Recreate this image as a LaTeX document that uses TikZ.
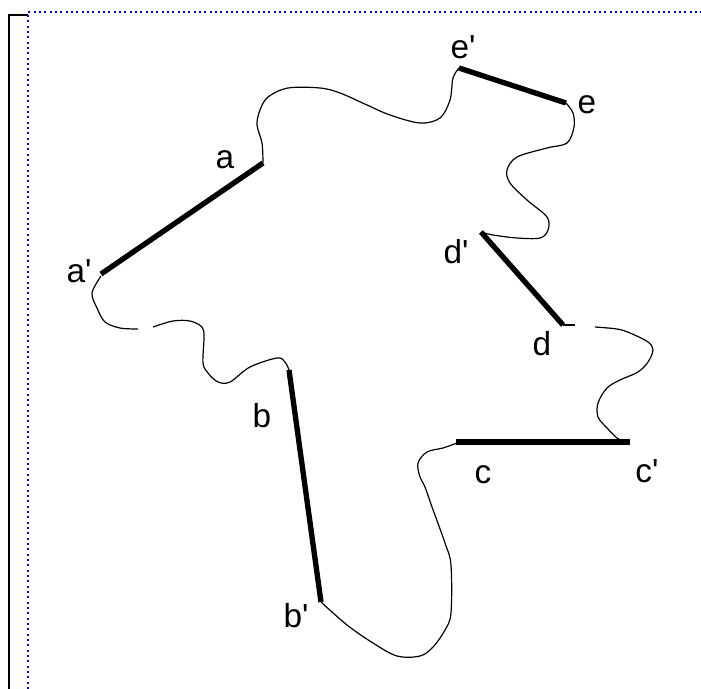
\documentclass[tikz,border=0pt]{standalone}
\usepackage{fontspec}
\setmainfont{Liberation Sans}
\begin{document}
\begin{tikzpicture}[x=0.75pt,y=-0.75pt,
  lbl/.style={anchor=base,inner sep=0pt,font=\fontsize{25}{30}\selectfont},
  seg/.style={line width=4pt,line cap=butt},
  edge/.style={line width=0.9pt,smooth,tension=0.55},
  frame/.style={line width=1.5pt,black},
  dots/.style={blue,line width=1.6pt,dash pattern=on 1.5pt off 2.5pt}]
\useasboundingbox (0,0) rectangle (701,689);
\fill[white] (0,0) rectangle (701,689);
% frame lines
\coordinate (f1) at (28,15);
\coordinate (f2) at (9,15);
\coordinate (f3) at (9,689);
\draw[frame] (f1) -- (f2) -- (f3);
\coordinate (g1) at (28,689);
\coordinate (g2) at (28,12);
\coordinate (g3) at (701,12);
\draw[dots] (g1) -- (g2) -- (g3);
% segment end points
\coordinate (pa) at (263,163);
\coordinate (pa2) at (101,274);
\coordinate (pe2) at (459,68);
\coordinate (pe) at (566,103);
\coordinate (pd2) at (481,232);
\coordinate (pd) at (563,325);
\coordinate (pc) at (456,442);
\coordinate (pc2) at (630,442);
\coordinate (pb) at (289,370);
\coordinate (pb2) at (321,602);
% thick segments
\draw[seg] (pa) -- (pa2);
\draw[seg] (pe2) -- (pe);
\draw[seg] (pd2) -- (pd);
\draw[seg] (pc) -- (pc2);
\draw[seg] (pb) -- (pb2);
% thin boundary
\draw[edge] plot coordinates {(263,163) (262,143) (257,125) (260,110) (268,97) (288,88) (320,88) (340,93) (367,105) (390,115) (420,123) (440,118) (450,100) (453,78) (459,68)};
\draw[edge] plot coordinates {(566,103) (573,113) (574,127) (567,143) (547,148) (517,157) (507,170) (510,183) (527,200) (547,217) (548,230) (540,238) (517,238) (493,235) (481,232)};
\draw[line width=0.9pt] (563,325) -- (575,325);
\draw[edge] plot coordinates {(595,327) (617,329) (630,333) (648,342) (653,350) (648,362) (638,372) (620,380) (607,388) (598,403) (598,417) (607,428) (617,438) (624,441)};
\draw[edge] plot coordinates {(457,443) (443,448) (427,452) (418,463) (420,477) (425,487) (432,507) (445,543) (451,565) (451,613) (445,630) (433,647) (420,656) (397,656) (373,643) (347,625) (321,602)};
\draw[edge] plot coordinates {(289,370) (285,362) (277,358) (250,367) (230,382) (218,382) (208,373) (203,363) (204,337) (202,327) (190,321) (173,321) (153,327)};
\draw[edge] plot coordinates {(138,329) (120,328) (105,322) (97,308) (92,293) (101,276)};
% labels
\node[lbl] (la) at (225,168) {a};
\node[lbl] (la2) at (79,282) {a\textquotesingle};
\node[lbl] (le2) at (463,58) {e\textquotesingle};
\node[lbl] (le) at (587,113) {e};
\node[lbl] (ld2) at (456,263) {d\textquotesingle};
\node[lbl] (ld) at (542,355) {d};
\node[lbl] (lb) at (262,427) {b};
\node[lbl] (lb2) at (296,627) {b\textquotesingle};
\node[lbl] (lc) at (483,483) {c};
\node[lbl] (lc2) at (647,482) {c\textquotesingle};
\end{tikzpicture}
\end{document}
